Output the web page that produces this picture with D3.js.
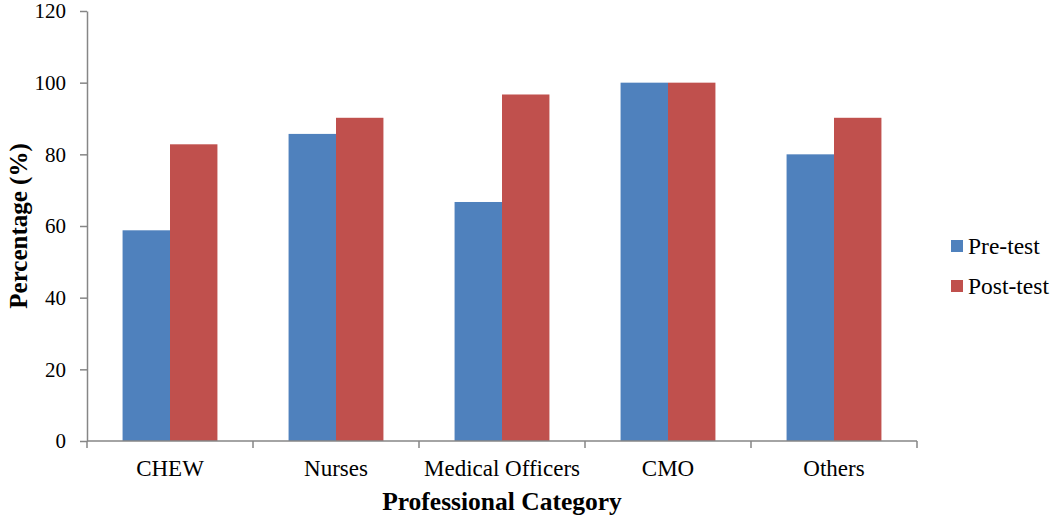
<!DOCTYPE html>
<html>
<head>
<meta charset="utf-8">
<script src="https://cdn.jsdelivr.net/npm/d3@7"></script>
<style>
  html, body { margin: 0; padding: 0; background: #fff; }
  svg { display: block; }
  text { font-family: "Liberation Serif", "Times New Roman", serif; fill: #000; }
</style>
</head>
<body>
<svg id="chart" width="1050" height="519"></svg>
<script>
const categories = ["CHEW", "Nurses", "Medical Officers", "CMO", "Others"];
const seriesNames = ["Pre-test", "Post-test"];
const preTest = [58.8, 85.7, 66.7, 100, 80];
const postTest = [82.8, 90.2, 96.7, 100, 90.2];
const yTicks = [0, 20, 40, 60, 80, 100, 120];
const colors = ["#4F81BD", "#C0504D"];

const svg = d3.select("#chart");
const plotLeft = 87, plotRight = 917, plotTop = 11, plotBottom = 441;

const x = d3.scaleBand().domain(categories).range([plotLeft, plotRight]).paddingInner(0).paddingOuter(0);
const xs = d3.scaleBand().domain(seriesNames).range([0, x.bandwidth()]).paddingInner(0).paddingOuter(0.75);
const y = d3.scaleLinear().domain([0, 120]).range([plotBottom, plotTop]);

const series = [preTest, postTest];
const rows = categories.map((c, i) => ({ cat: c, vals: seriesNames.map((s, j) => ({ s, v: series[j][i], j })) }));

// bars
const g = svg.append("g");
g.selectAll("g.cat").data(rows).join("g")
  .attr("transform", d => `translate(${x(d.cat)},0)`)
  .selectAll("rect").data(d => d.vals).join("rect")
  .attr("x", d => xs(d.s))
  .attr("width", xs.bandwidth())
  .attr("y", d => y(d.v))
  .attr("height", d => y(0) - y(d.v))
  .attr("fill", d => colors[d.j]);

// y axis
const yAxis = svg.append("g").attr("transform", `translate(${plotLeft},0)`)
  .call(d3.axisLeft(y).tickValues(yTicks).tickSize(7).tickPadding(14).tickSizeOuter(0));
yAxis.attr("font-family", null).attr("font-size", null);
yAxis.select(".domain").attr("stroke", "#868686").attr("stroke-width", 1.5);
yAxis.selectAll(".tick line").attr("stroke", "#868686").attr("stroke-width", 1.5);
yAxis.selectAll(".tick text").style("font-size", "21px").attr("fill", "#000");

// x axis
const xAxisG = svg.append("g").attr("transform", `translate(0,${plotBottom})`);
xAxisG.append("line").attr("x1", plotLeft).attr("x2", plotRight).attr("y1", 0).attr("y2", 0)
  .attr("stroke", "#868686").attr("stroke-width", 1.5);
const boundaries = categories.map(c => x(c)).concat([plotRight]);
xAxisG.selectAll("line.tk").data(boundaries).join("line").attr("class", "tk")
  .attr("x1", d => d).attr("x2", d => d).attr("y1", 0).attr("y2", 7)
  .attr("stroke", "#868686").attr("stroke-width", 1.5);
xAxisG.selectAll("text.cl").data(categories).join("text").attr("class", "cl")
  .attr("x", d => x(d) + x.bandwidth() / 2)
  .attr("y", 35)
  .attr("text-anchor", "middle")
  .style("font-size", "23px")
  .text(d => d);

// axis titles
svg.append("text")
  .attr("x", (plotLeft + plotRight) / 2).attr("y", 510)
  .attr("text-anchor", "middle")
  .style("font-size", "25.5px").style("font-weight", "bold")
  .text("Professional Category");
svg.append("text")
  .attr("transform", `translate(27,${(plotTop + plotBottom) / 2}) rotate(-90)`)
  .attr("text-anchor", "middle")
  .style("font-size", "25px").style("font-weight", "bold")
  .text("Percentage (%)");

// legend
const legend = svg.append("g").attr("transform", "translate(951,246)");
const li = legend.selectAll("g").data(seriesNames).join("g")
  .attr("transform", (d, i) => `translate(0,${i * 40})`);
li.append("rect").attr("x", 0).attr("y", -6).attr("width", 12).attr("height", 12)
  .attr("fill", (d, i) => colors[i]);
li.append("text").attr("x", 17).attr("y", 0).attr("dy", "0.35em")
  .style("font-size", "23.5px").text(d => d);
</script>
</body>
</html>
